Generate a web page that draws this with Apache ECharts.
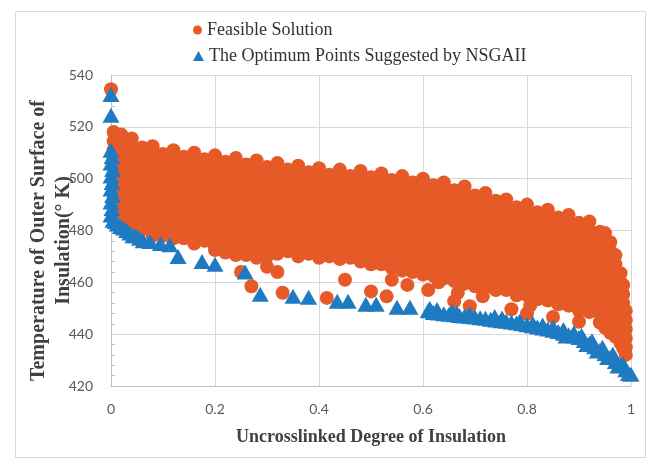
<!DOCTYPE html>
<html><head><meta charset="utf-8">
<script src="https://cdn.jsdelivr.net/npm/echarts@6/dist/echarts.min.js"></script>
<style>html,body{margin:0;padding:0;background:#fff}#c{width:651px;height:461px}</style>
</head><body><div id="c"></div><script>
// ---- tick labels ----
const xTicks = [0, 0.2, 0.4, 0.6, 0.8, 1];
const yTicks = [420, 440, 460, 480, 500, 520, 540];

// ---- Feasible Solution (columns of points) ----
const feasibleColX = [0.005,0.02,0.04,0.06,0.08,0.10,0.12,0.14,0.16,0.18,0.20,0.22,0.24,0.26,0.28,0.30,0.32,0.34,0.36,0.38,0.40,0.42,0.44,0.46,0.48,0.50,0.52,0.54,0.56,0.58,0.60,0.62,0.64,0.66,0.68,0.70,0.72,0.74,0.76,0.78,0.80,0.82,0.84,0.86,0.88,0.90,0.92,0.94,0.95,0.96,0.97,0.98,0.985,0.99];
const feasibleColY = [
 [518,514.5,511,507.5,504,500.5,497,493.5,490,486.5,484.5],
 [517,515,511.5,508,504.5,501,497.5,494,490.5,487,483.5],
 [515.5,512,508.5,505,501.5,498,494.5,491,487.5,484,480.5],
 [512,508.5,505,501.5,498,494.5,491,487.5,484,480.5],
 [512.5,509,505.5,502,498.5,495,491.5,488,484.5,481,478],
 [509.5,506,502.5,499,495.5,492,488.5,485,481.5,478],
 [511,507.5,504,500.5,497,493.5,490,486.5,483,479.5,477],
 [508.5,505,501.5,498,494.5,491,487.5,484,480.5,477],
 [510,506.5,503,499.5,496,492.5,489,485.5,482,478.5,475],
 [507.5,504,500.5,497,493.5,490,486.5,483,479.5,476],
 [509,505.5,502,498.5,495,491.5,488,484.5,481,477.5,474,472.5],
 [506.5,503,499.5,496,492.5,489,485.5,482,478.5,475,471.5],
 [508,504.5,501,497.5,494,490.5,487,483.5,480,476.5,473,470.5],
 [505.5,502,498.5,495,491.5,488,484.5,481,477.5,474,470.5],
 [507,503.5,500,496.5,493,489.5,486,482.5,479,475.5,472,469.5],
 [504.5,501,497.5,494,490.5,487,483.5,480,476.5,473,470],
 [506,502.5,499,495.5,492,488.5,485,481.5,478,474.5,471],
 [503.5,500,496.5,493,489.5,486,482.5,479,475.5,472],
 [505,501.5,498,494.5,491,487.5,484,480.5,477,473.5,470],
 [502.5,499,495.5,492,488.5,485,481.5,478,474.5,471],
 [504,500.5,497,493.5,490,486.5,483,479.5,476,472.5,469.5],
 [501.5,498,494.5,491,487.5,484,480.5,477,473.5,470],
 [503.5,500,496.5,493,489.5,486,482.5,479,475.5,472,469],
 [501,497.5,494,490.5,487,483.5,480,476.5,473,469.5],
 [503,499.5,496,492.5,489,485.5,482,478.5,475,471.5,468],
 [500.5,497,493.5,490,486.5,483,479.5,476,472.5,469,467],
 [502,498.5,495,491.5,488,484.5,481,477.5,474,470.5,467],
 [499.5,496,492.5,489,485.5,482,478.5,475,471.5,468,465.5],
 [501,497.5,494,490.5,487,483.5,480,476.5,473,469.5,466,464.5],
 [498.5,495,491.5,488,484.5,481,477.5,474,470.5,467,464],
 [500,496.5,493,489.5,486,482.5,479,475.5,472,468.5,465,463],
 [497.5,494,490.5,487,483.5,480,476.5,473,469.5,466,462.5],
 [498.5,495,491.5,488,484.5,481,477.5,474,470.5,467,463.5,461.5],
 [495.5,492,488.5,485,481.5,478,474.5,471,467.5,464,460.5],
 [497,493.5,490,486.5,483,479.5,476,472.5,469,465.5,462,459.5],
 [493.5,490,486.5,483,479.5,476,472.5,469,465.5,462,458.5],
 [494.5,491,487.5,484,480.5,477,473.5,470,466.5,463,459.5,458],
 [491.5,488,484.5,481,477.5,474,470.5,467,463.5,460,457],
 [492,488.5,485,481.5,478,474.5,471,467.5,464,460.5,457],
 [489,485.5,482,478.5,475,471.5,468,464.5,461,457.5,455],
 [490,486.5,483,479.5,476,472.5,469,465.5,462,458.5,455],
 [487,483.5,480,476.5,473,469.5,466,462.5,459,455.5,453.5],
 [488,484.5,481,477.5,474,470.5,467,463.5,460,456.5,453],
 [485,481.5,478,474.5,471,467.5,464,460.5,457,453.5,451.5],
 [486,482.5,479,475.5,472,468.5,465,461.5,458,454.5,451],
 [483,479.5,476,472.5,469,465.5,462,458.5,455,451.5,449],
 [483.5,480,476.5,473,469.5,466,462.5,459,455.5,452,448.5],
 [479.5,476,472.5,469,465.5,462,458.5,455,451.5,448,444.5],
 [479,475.5,472,468.5,465,461.5,458,454.5,451,447.5,444,442.5],
 [475.5,472,468.5,465,461.5,458,454.5,451,447.5,444,440.5],
 [470.5,467,463.5,460,456.5,453,449.5,446,442.5,439],
 [463.5,460,456.5,453,449.5,446,442.5,439,436.5],
 [459,455.5,452,448.5,445,441.5,438,434.5],
 [449,445.5,442,438.5,435,432]
];
// isolated feasible points below the main cloud
const feasibleLooseX = [0,0.25,0.27,0.30,0.32,0.33,0.415,0.45,0.50,0.53,0.54,0.57,0.61,0.63,0.66,0.667,0.69,0.715,0.77,0.80,0.806,0.85,0.90];
const feasibleLooseY = [534.5,464,458.5,466,464,456,454,461,456.5,454.6,461,459,457,460,452.7,456,450.8,454.6,449.6,448,451,446.6,444.8];

// ---- The Optimum Points Suggested by NSGAII ----
const optimumX = [
 0,0,0,0.002,0,0.003,0,0.002,0,0.003,0,0.002,0,0.004,
 0.008,0.012,0.018,0.024,0.03,0.036,0.042,0.048,0.055,0.062,0.075,0.095,0.113,0.129,0.175,0.2,0.258,0.287,0.35,0.38,0.435,0.456,0.49,0.51,0.55,0.575,0.61,
 0.62,0.63,0.64,0.65,0.66,0.67,0.68,0.69,0.70,0.71,0.72,0.73,0.74,0.75,0.76,0.77,0.78,0.79,0.80,0.81,0.82,0.83,0.84,0.85,0.86,0.87,0.88,0.89,0.90,0.91,0.92,0.93,0.94,0.95,0.96,0.97,0.98,0.99,1.0,
 0.613,0.627,0.656,0.665,0.69,0.738,0.752,0.786,0.811,0.83,0.85,0.87,0.89,0.905,0.925,0.945,0.965,0.985,
 0.875,0.915,0.935,0.955,0.975,0.995
];
const optimumY = [
 532.5,524.5,511,508.5,506,503.5,501,498.5,496,493.5,491,488.5,486,484,
 483.5,482.5,481.5,481,480,479,478,478,477,476,475.8,475,474.5,470,468,467,464,455.4,454.6,454.2,452.7,452.7,451.5,451.5,450.4,450.4,449,
 448.4,448.2,447.9,447.7,447.5,447.2,447,446.8,446.6,446.3,446.1,445.8,445.5,445.2,445,444.7,444.4,444,443.6,443.2,442.8,442.4,442,441.5,441,440.4,439.8,439.3,438.7,437.6,436.5,435.1,433.7,432.5,431,429.5,428,426.3,424.5,
 450,449.5,448.8,448.2,447.9,446.8,446.2,445,444.2,443.5,442.8,441.8,440.5,439.5,437.5,435,432.3,428.5,
 439.3,436,433.5,431,427.7,424.8
];

const feasibleData = [];
feasibleColX.forEach((x, i) => feasibleColY[i].forEach(y => feasibleData.push([x, y])));
feasibleLooseX.forEach((x, i) => feasibleData.push([x, feasibleLooseY[i]]));
const optimumData = optimumX.map((x, i) => [x, optimumY[i]]);

const NAME1 = 'Feasible Solution';
const NAME2 = 'The Optimum Points Suggested by NSGAII';
const serif = '"Liberation Serif","Times New Roman",serif';

const chart = echarts.init(document.getElementById('c'), null, {renderer: 'canvas'});
chart.setOption({
  animation: false,
  backgroundColor: '#fff',
  graphic: [{
    type: 'rect', silent: true, z: -10,
    shape: {x: 15.5, y: 11.5, width: 630, height: 446},
    style: {fill: null, stroke: '#d9d9d9', lineWidth: 1}
  }],
  legend: [
    {data: [{name: NAME1, icon: 'circle'}], left: 193, top: 21, padding: 0,
     itemWidth: 9, itemHeight: 9, selectedMode: false,
     textStyle: {fontFamily: serif, fontSize: 18, color: '#333'}},
    {data: [{name: NAME2, icon: 'triangle'}], left: 193, top: 47, padding: 0,
     itemWidth: 11, itemHeight: 10, selectedMode: false,
     textStyle: {fontFamily: serif, fontSize: 18, color: '#333'}}
  ],
  grid: {left: 111, right: 20, top: 75, bottom: 75},
  xAxis: {
    type: 'value', min: xTicks[0], max: xTicks[xTicks.length - 1], interval: 0.2,
    name: 'Uncrosslinked Degree of Insulation', nameLocation: 'middle', nameGap: 42,
    nameTextStyle: {fontFamily: serif, fontWeight: 'bold', fontSize: 18, color: '#404040'},
    axisLine: {show: true, lineStyle: {color: '#bfbfbf', width: 1}},
    axisTick: {show: false},
    axisLabel: {color: '#595959', fontSize: 14, fontFamily: 'Lato', margin: 16},
    splitLine: {show: true, lineStyle: {color: '#d9d9d9', width: 1}}
  },
  yAxis: {
    type: 'value', min: yTicks[0], max: yTicks[yTicks.length - 1], interval: 20,
    name: 'Temperature of Outer Surface of\nInsulation(° K)', nameLocation: 'middle',
    nameRotate: 90, nameGap: 35, nameMoveOverlap: false,
    nameTextStyle: {fontFamily: serif, fontWeight: 'bold', fontSize: 20, color: '#404040', lineHeight: 25,
                    padding: [0, 20, 0, 0]},
    axisLine: {show: true, lineStyle: {color: '#bfbfbf', width: 1}},
    axisTick: {show: false, inside: true},
    minorTick: {show: true, splitNumber: 5, length: 4, lineStyle: {color: '#bfbfbf'}},
    axisLabel: {color: '#595959', fontSize: 14, fontFamily: 'Lato', margin: 18},
    splitLine: {show: true, lineStyle: {color: '#d9d9d9', width: 1}}
  },
  series: [
    {type: 'scatter', name: NAME1, data: feasibleData, symbol: 'circle', symbolSize: 14,
     clip: false, itemStyle: {color: '#E65A28', opacity: 1}, silent: true},
    {type: 'scatter', name: NAME2, data: optimumData, symbol: 'triangle', symbolSize: [17, 15],
     clip: false, itemStyle: {color: '#1F7BC1', opacity: 1}, silent: true}
  ]
});
</script></body></html>
